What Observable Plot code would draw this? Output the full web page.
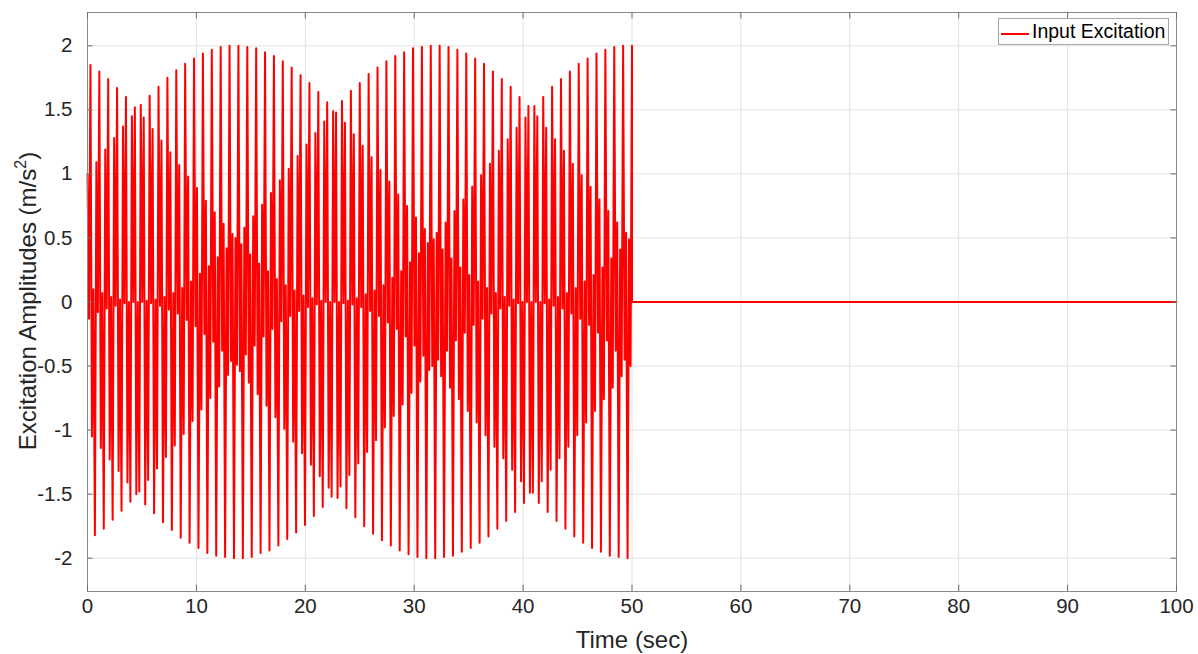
<!DOCTYPE html>
<html>
<head>
<meta charset="utf-8">
<script src="https://cdn.jsdelivr.net/npm/d3@7"></script>
<script src="https://cdn.jsdelivr.net/npm/@observablehq/plot@0.6"></script>
<style>
  body { margin: 0; background: #fff; }
  #wrap { position: relative; width: 1198px; height: 654px; overflow: hidden;
          font-family: "Liberation Sans", Arial, Helvetica, sans-serif; color: #262626; }
  #ylab { position: absolute; left: -222px; top: 287px; width: 500px; text-align: center;
          font-size: 24px; line-height: 28px; transform: rotate(-90deg); white-space: nowrap; }
  #ylab sup { font-size: 16px; vertical-align: 10px; line-height: 0; }
  #xlab { position: absolute; left: 432px; top: 626px; width: 400px; text-align: center;
          font-size: 24px; line-height: 28px; white-space: nowrap; }
  #legend { position: absolute; left: 998px; top: 18px; width: 171px; height: 27px; box-sizing: border-box;
            border: 1px solid #a6a6a6; background: #fff; }
  #legend .sw { position: absolute; left: 2px; top: 14px; width: 28px; height: 2px; background: #ff0000; }
  #legend .tx { position: absolute; left: 33px; top: 1px; font-size: 19.5px; line-height: 23px; color: #000; white-space: nowrap; }
</style>
</head>
<body>
<div id="wrap">
  <div id="chart"></div>
  <div id="ylab">Excitation Amplitudes (m/s<sup>2</sup>)</div>
  <div id="xlab">Time (sec)</div>
  <div id="legend"><div class="sw"></div><div class="tx">Input Excitation</div></div>
</div>
<script>
// Successive turning points (peaks / troughs) of the excitation, one every sampleStep seconds
const sampleStep = 50 / 368;
const excitation = [
  1.00, -0.13, 1.85, -1.05, 0.10, -1.82,
  1.09, -0.08, 1.80, -1.14, 0.07, -1.77,
  1.19, -0.05, 1.74, -1.23, 0.04, -1.70,
  1.28, -0.03, 1.67, -1.32, 0.02, -1.63,
  1.37, -0.01, 1.60, -1.41, 0.00, -1.56,
  1.45, 0.00, 1.52, -1.50, 0.00, -1.48,
  1.54, 0.00, 1.44, -1.58, 0.01, -1.39,
  1.61, -0.01, 1.35, -1.65, 0.02, -1.30,
  1.68, -0.03, 1.26, -1.72, 0.04, -1.21,
  1.75, -0.06, 1.17, -1.78, 0.07, -1.12,
  1.81, -0.09, 1.07, -1.84, 0.11, -1.03,
  1.86, -0.14, 0.98, -1.88, 0.16, -0.93,
  1.90, -0.19, 0.89, -1.92, 0.22, -0.84,
  1.94, -0.25, 0.79, -1.96, 0.28, -0.75,
  1.97, -0.31, 0.70, -1.98, 0.35, -0.66,
  1.99, -0.38, 0.61, -1.99, 0.42, -0.57,
  2.00, -0.46, 0.53, -2.00, 0.50, -0.49,
  2.00, -0.54, 0.45, -2.00, 0.58, -0.41,
  1.99, -0.63, 0.37, -1.99, 0.67, -0.34,
  1.98, -0.72, 0.30, -1.96, 0.76, -0.27,
  1.95, -0.81, 0.24, -1.94, 0.85, -0.21,
  1.92, -0.90, 0.18, -1.90, 0.95, -0.15,
  1.88, -0.99, 0.13, -1.85, 1.04, -0.11,
  1.83, -1.09, 0.09, -1.80, 1.14, -0.07,
  1.77, -1.18, 0.05, -1.74, 1.23, -0.04,
  1.71, -1.27, 0.03, -1.67, 1.32, -0.02,
  1.64, -1.36, 0.01, -1.60, 1.41, 0.00,
  1.56, -1.45, 0.00, -1.52, 1.49, 0.00,
  1.48, -1.53, 0.00, -1.44, 1.57, -0.01,
  1.40, -1.61, 0.01, -1.35, 1.65, -0.02,
  1.31, -1.68, 0.03, -1.26, 1.71, -0.04,
  1.22, -1.75, 0.06, -1.17, 1.78, -0.07,
  1.13, -1.81, 0.09, -1.08, 1.83, -0.11,
  1.03, -1.86, 0.13, -0.98, 1.88, -0.16,
  0.94, -1.90, 0.19, -0.89, 1.92, -0.21,
  0.84, -1.94, 0.24, -0.80, 1.95, -0.27,
  0.75, -1.97, 0.31, -0.71, 1.98, -0.34,
  0.66, -1.99, 0.38, -0.62, 1.99, -0.42,
  0.57, -2.00, 0.46, -0.53, 2.00, -0.50,
  0.49, -2.00, 0.54, -0.45, 2.00, -0.58,
  0.41, -1.99, 0.62, -0.38, 1.99, -0.67,
  0.34, -1.98, 0.71, -0.30, 1.97, -0.76,
  0.27, -1.95, 0.80, -0.24, 1.94, -0.85,
  0.21, -1.92, 0.90, -0.18, 1.90, -0.94,
  0.16, -1.88, 0.99, -0.13, 1.86, -1.04,
  0.11, -1.83, 1.08, -0.09, 1.80, -1.13,
  0.07, -1.77, 1.18, -0.05, 1.74, -1.22,
  0.04, -1.71, 1.27, -0.03, 1.68, -1.31,
  0.02, -1.64, 1.36, -0.01, 1.60, -1.40,
  0.00, -1.57, 1.44, 0.00, 1.53, -1.49,
  0.00, -1.49, 1.53, 0.00, 1.45, -1.57,
  0.00, -1.40, 1.60, -0.01, 1.36, -1.64,
  0.02, -1.31, 1.68, -0.03, 1.27, -1.71,
  0.04, -1.22, 1.74, -0.05, 1.18, -1.77,
  0.07, -1.13, 1.80, -0.09, 1.08, -1.83,
  0.11, -1.04, 1.86, -0.13, 0.99, -1.88,
  0.16, -0.94, 1.90, -0.18, 0.90, -1.92,
  0.21, -0.85, 1.94, -0.24, 0.80, -1.95,
  0.27, -0.76, 1.97, -0.30, 0.71, -1.98,
  0.34, -0.67, 1.99, -0.38, 0.62, -1.99,
  0.41, -0.58, 2.00, -0.45, 0.54, -2.00,
  0.49, -0.50, 2.00
];
// After the excitation stops the signal stays at zero
const tailTimes = [50, 100];
const tailValues = [0, 0];

const xTicks = [0, 10, 20, 30, 40, 50, 60, 70, 80, 90, 100];
const yTicks = [-2, -1.5, -1, -0.5, 0, 0.5, 1, 1.5, 2];
const yTickLabels = ["-2", "-1.5", "-1", "-0.5", "0", "0.5", "1", "1.5", "2"];
const xDomain = [0, 100];
const yDomain = [-2.26, 2.26];

const points = excitation.map((v, i) => ({t: i * sampleStep, v}))
  .concat(tailTimes.map((t, i) => ({t, v: tailValues[i]})));

const tickLenY = (yDomain[1] - yDomain[0]) * 0.011;
const tickLenX = (xDomain[1] - xDomain[0]) * 0.005;

const chart = Plot.plot({
  width: 1198,
  height: 654,
  marginLeft: 87,
  marginRight: 22,
  marginTop: 12,
  marginBottom: 63,
  x: {domain: xDomain},
  y: {domain: yDomain},
  style: {fontFamily: "'Liberation Sans', Arial, Helvetica, sans-serif", fontSize: "20.5px", color: "#262626", background: "#ffffff", overflow: "visible"},
  marks: [
    Plot.gridX(xTicks, {stroke: "#e2e2e2", strokeOpacity: 1, strokeWidth: 1}),
    Plot.gridY(yTicks, {stroke: "#e2e2e2", strokeOpacity: 1, strokeWidth: 1}),
    Plot.line(points, {x: "t", y: "v", stroke: "#ff0000", strokeWidth: 2, curve: "linear"}),
    Plot.frame({stroke: "#8a8a8a", strokeWidth: 1}),
    Plot.ruleX(xTicks, {y1: yDomain[0], y2: yDomain[0] + tickLenY, stroke: "#6e6e6e"}),
    Plot.ruleX(xTicks, {y1: yDomain[1] - tickLenY, y2: yDomain[1], stroke: "#6e6e6e"}),
    Plot.ruleY(yTicks, {x1: xDomain[0], x2: xDomain[0] + tickLenX, stroke: "#6e6e6e"}),
    Plot.ruleY(yTicks, {x1: xDomain[1] - tickLenX, x2: xDomain[1], stroke: "#6e6e6e"}),
    Plot.axisX(xTicks, {tickSize: 0, tickPadding: 7, label: null, fill: "#262626", fontSize: 20.5}),
    Plot.axisY(yTicks, {tickSize: 0, tickPadding: 15, label: null, fill: "#262626", fontSize: 20.5,
      tickFormat: (d) => yTickLabels[yTicks.indexOf(d)]})
  ]
});
document.getElementById("chart").appendChild(chart);
</script>
</body>
</html>
